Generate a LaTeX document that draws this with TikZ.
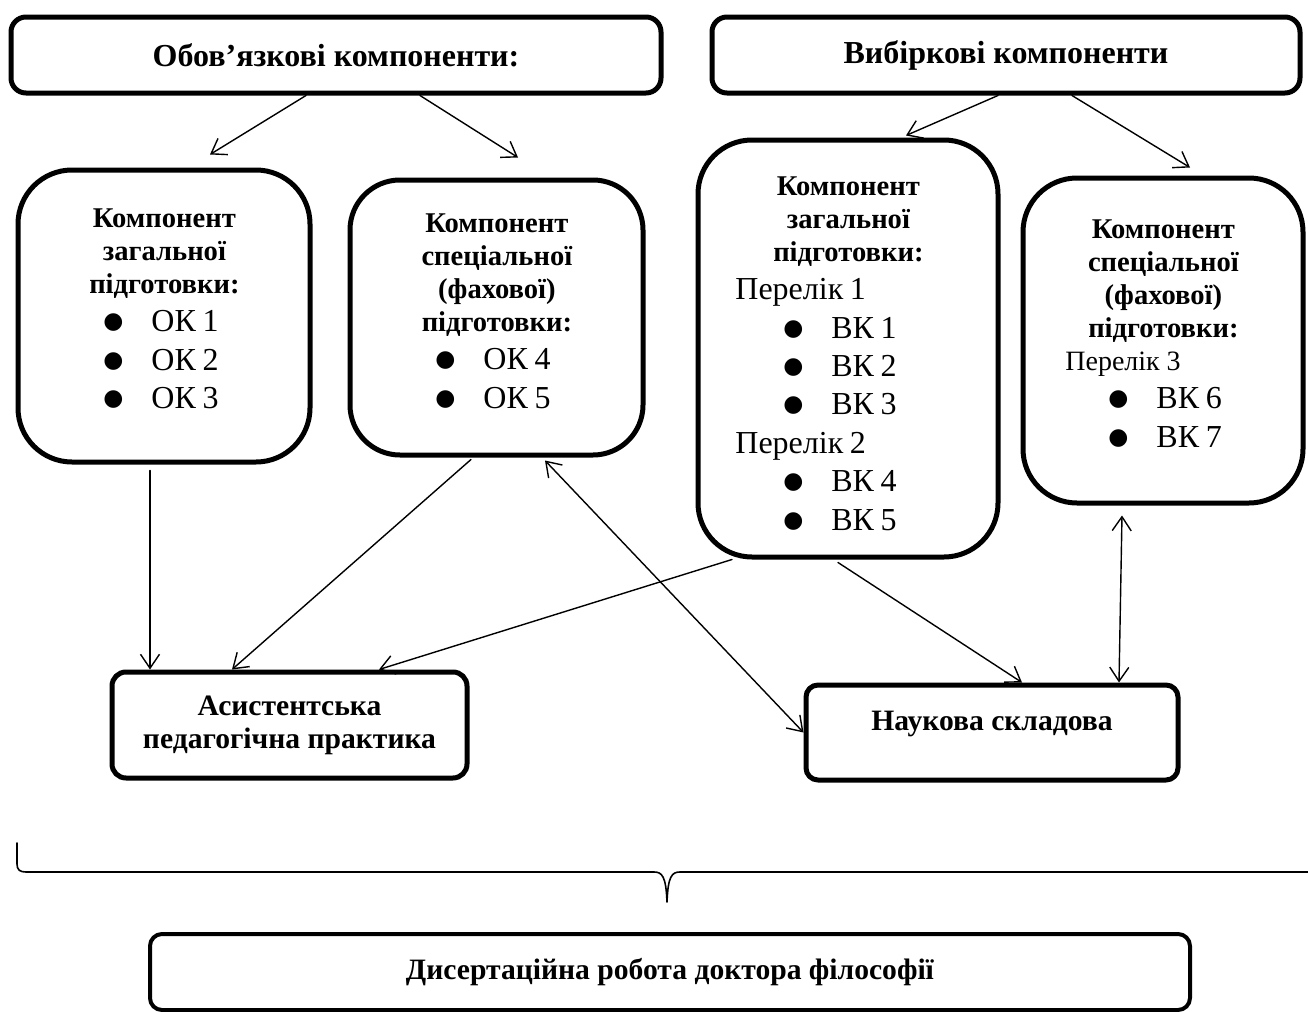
\documentclass[tikz,border=0pt]{standalone}
\usepackage{fontspec}
\setmainfont{Liberation Serif}
\newfontfamily\dotfont{DejaVu Sans}
\usetikzlibrary{arrows.meta}
\setlength{\parindent}{0pt}
\newcommand{\hdfont}{\fontsize{14.3}{16.5}\selectfont\bfseries}
\newcommand{\itfont}{\fontsize{16}{19.2}\selectfont}
\newcommand{\bigdot}{\raisebox{1.5pt}{\dotfont\fontsize{11.5}{12}\selectfont ●}}
\newcommand{\bulitem}[1]{\makebox[\hsize][l]{\hspace*{42.5pt}\makebox[24pt][l]{\bigdot}#1}}
\newcommand{\perline}[2]{\makebox[\hsize][l]{\hspace*{#1}#2}}
\begin{document}
\begin{tikzpicture}[x=0.5pt,y=-0.5pt,line join=round,line cap=round,
	>={Straight Barb[length=7pt,width=9.5pt]},
	topbox/.style={draw,line width=2.5pt,rounded corners=7.5pt,inner sep=0pt,font=\fontsize{16}{18}\selectfont\bfseries},
	compbox/.style={draw,line width=2.5pt,rounded corners=27pt,inner sep=0pt},
	comptext/.style={anchor=north west,inner sep=0pt,align=center},
	lowbox/.style={draw,line width=2.5pt,rounded corners=7pt,inner sep=0pt,align=center,font=\fontsize{14.8}{16.5}\selectfont\bfseries},
	link/.style={->,line width=0.7pt},
	twolink/.style={<->,line width=0.7pt}]
	\useasboundingbox (0,0) rectangle (1308,1012);
	
	\node[topbox,minimum width=325pt,minimum height=38pt] (b1) at (336,55) {Обов’язкові компоненти:};
	\node[topbox,minimum width=294pt,minimum height=38pt] (b2) at (1006,55) {Вибіркові компоненти};
	
	\node[compbox,minimum width=146pt,minimum height=146pt] (bA) at (164,316) {};
	\node[compbox,rounded corners=25pt,minimum width=146.5pt,minimum height=137.5pt] (bB) at (496.5,317.5) {};
	\node[compbox,minimum width=150pt,minimum height=208.5pt] (bC) at (848,348.5) {};
	\node[compbox,minimum width=140pt,minimum height=162.5pt] (bD) at (1163,340.5) {};
	
	\node[comptext,text width=146pt] (tA) at (18,208.1) {%
		{\hdfont Компонент\\загальної\\підготовки:\par}
		{\itfont\bulitem{ОК 1}\\\bulitem{ОК 2}\\\bulitem{ОК 3}\par}};
	\node[comptext,text width=146.5pt] (tB) at (350,213.1) {%
		{\hdfont Компонент\\спеціальної\\(фахової)\\підготовки:\par}
		{\itfont\bulitem{ОК 4}\\\bulitem{ОК 5}\par}};
	\node[comptext,text width=150pt] (tC) at (698,176.1) {%
		{\hdfont Компонент\\загальної\\підготовки:\par}
		{\itfont\perline{18.5pt}{Перелік 1}\\\bulitem{ВК 1}\\\bulitem{ВК 2}\\\bulitem{ВК 3}\\
		\perline{18.5pt}{Перелік 2}\\\bulitem{ВК 4}\\\bulitem{ВК 5}\par}};
	\node[comptext,text width=140pt] (tD) at (1023,219.1) {%
		{\hdfont Компонент\\спеціальної\\(фахової)\\підготовки:\par}
		{\fontsize{14}{16.5}\selectfont\perline{21pt}{Перелік 3}\par}
		{\itfont\bulitem{ВК 6}\\\bulitem{ВК 7}\par}};
	
	\node[lowbox,minimum width=177.5pt,minimum height=53pt] (bP) at (289.5,725) {Асистентська\\педагогічна практика};
	\node[lowbox,rounded corners=6pt,minimum width=186pt,minimum height=47.5pt,text height=9.8pt,text depth=12.3pt] (bN) at (992,732.5) {Наукова складова};
	\node[lowbox,line width=2pt,rounded corners=6pt,minimum width=520pt,minimum height=38pt] (bF) at (670,972) {Дисертаційна робота доктора філософії};
	
	\draw[link] ([xshift=-15pt]b1.south) -- ([xshift=23pt,yshift=6.5pt]bA.north);
	\draw[link] ([xshift=42pt]b1.south) -- ([xshift=10.75pt,yshift=10pt]bB.north);
	\draw[link] ([xshift=-4pt]b2.south) -- ([xshift=29pt,yshift=1pt]bC.north);
	\draw[link] ([xshift=33pt]b2.south) -- ([xshift=13.5pt,yshift=4pt]bD.north);
	
	\draw[link] ([xshift=-7pt,yshift=-3pt]bA.south) -- ([xshift=-69.75pt]bP.north);
	\draw[link] ([xshift=-12.75pt,yshift=-1pt]bB.south) -- ([xshift=-28.75pt]bP.north);
	\draw[link] ([xshift=-58pt]bC.south) -- ([xshift=44.75pt]bP.north);
	\draw[twolink] ([xshift=24.25pt,yshift=-1.5pt]bB.south) -- (bN.west);
	\draw[link] ([xshift=-5pt,yshift=-1.5pt]bC.south) -- ([xshift=15pt]bN.north);
	\draw[twolink] ([xshift=-20.5pt,yshift=-5pt]bD.south) -- ([xshift=63.5pt]bN.north);
	
	\draw[line width=0.8pt] (17,843) -- (17,864) .. controls (17,870) and (20,872) .. (26,872) -- (654,872)
		.. controls (662,872) and (666,876) .. (667,902) .. controls (668,876) and (672,872) .. (680,872) -- (1312,872);
\end{tikzpicture}
\end{document}
